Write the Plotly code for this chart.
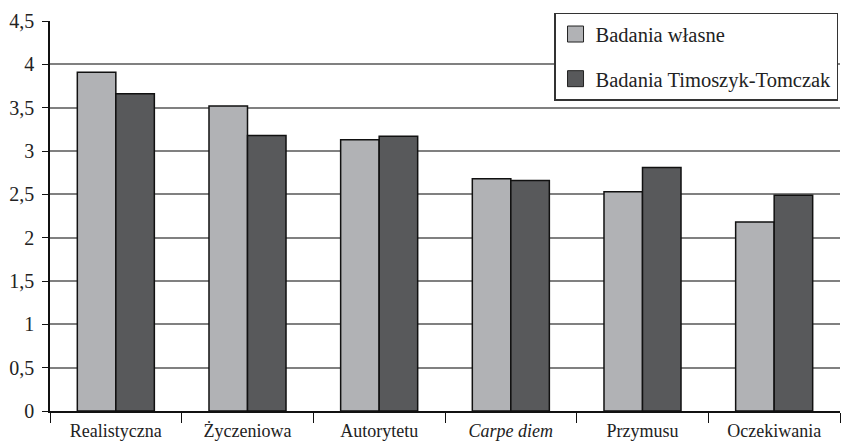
import plotly.graph_objects as go

categories = ["Realistyczna", "Życzeniowa", "Autorytetu", "Carpe diem", "Przymusu", "Oczekiwania"]
tick_labels = ["Realistyczna", "Życzeniowa", "Autorytetu", "<i>Carpe diem</i>", "Przymusu", "Oczekiwania"]
badania_wlasne = [3.91, 3.52, 3.13, 2.68, 2.53, 2.18]
badania_tt = [3.66, 3.18, 3.17, 2.66, 2.81, 2.49]
series_names = ["Badania własne", "Badania Timoszyk-Tomczak"]
series_colors = ["#b1b2b5", "#58595b"]
y_ticks = [0, 0.5, 1, 1.5, 2, 2.5, 3, 3.5, 4, 4.5]
y_tick_text = ["0", "0,5", "1", "1,5", "2", "2,5", "3", "3,5", "4", "4,5"]
half_ticks = [0.5, 1.5, 2.5, 3.5]

FONT = "'Liberation Serif', 'Times New Roman', Times, serif"

fig = go.Figure()
for name, vals, col, grp in zip(series_names, [badania_wlasne, badania_tt], series_colors, ["a", "b"]):
    fig.add_trace(go.Bar(
        x=categories, y=vals, name=name,
        marker=dict(color=col, line=dict(color="#111111", width=1.5)),
        legendgroup=grp, showlegend=False,
    ))
    # legend entry with a larger square swatch
    fig.add_trace(go.Scatter(
        x=[None], y=[None], mode="markers", name=name,
        marker=dict(symbol="square", size=16, color=col, line=dict(color="#222222", width=1)),
        legendgroup=grp, showlegend=True, hoverinfo="skip",
    ))

fig.update_layout(
    width=844, height=442,
    margin=dict(l=50, r=4, t=21, b=31, autoexpand=False),
    paper_bgcolor="white", plot_bgcolor="white",
    barmode="group", bargap=0.415, bargroupgap=0,
    font=dict(family=FONT, size=18, color="#222222"),
    legend=dict(
        x=0.638, y=1.0213, xanchor="left", yanchor="top",
        bgcolor="white", bordercolor="#333333", borderwidth=1.5,
        font=dict(family=FONT, size=20.5, color="#222222"),
        tracegroupgap=15, traceorder="grouped",
    ),
    xaxis=dict(
        tickmode="array", tickvals=categories, ticktext=tick_labels,
        tickson="boundaries", ticks="outside", ticklen=10, tickcolor="#111111",
        ticklabelstandoff=3, automargin=False,
        showline=True, linecolor="#111111", linewidth=1.5,
        showgrid=False, tickfont=dict(family=FONT, size=18, color="#222222"),
    ),
    yaxis=dict(
        range=[0, 4.5], tickmode="array", tickvals=y_ticks, ticktext=y_tick_text,
        ticks="outside", ticklen=6, tickcolor="#111111", ticklabelstandoff=4,
        automargin=False,
        showline=True, linecolor="#111111", linewidth=1.5,
        showgrid=True, gridcolor="#808080", gridwidth=1.5,
        zeroline=False, tickfont=dict(family=FONT, size=20, color="#222222"),
    ),
    yaxis2=dict(
        overlaying="y", side="right", range=[0, 4.5], automargin=False,
        tickmode="array", tickvals=half_ticks, showticklabels=False, ticks="",
        showgrid=True, gridcolor="#111111", gridwidth=1.5,
        showline=True, linecolor="#999999", linewidth=1.5, zeroline=False,
    ),
)

fig.write_html(
    "out.html",
    config={"displayModeBar": False},
    post_script="document.body.style.margin='0';document.body.style.padding='0';document.body.style.overflow='hidden';",
)
